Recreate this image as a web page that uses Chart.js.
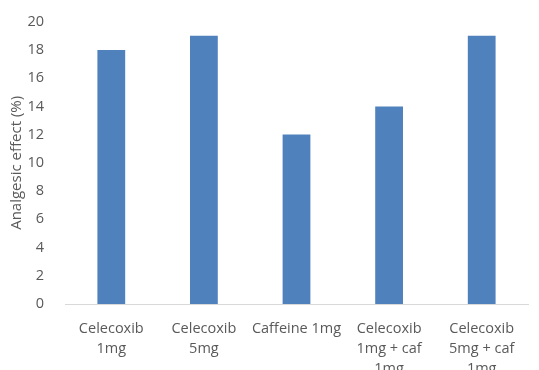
<!DOCTYPE html>
<html>
<head>
<meta charset="utf-8">
<script src="https://cdn.jsdelivr.net/npm/chart.js@4.4.1/dist/chart.umd.min.js"></script>
<style>
  html, body { margin: 0; padding: 0; background: #ffffff; overflow: hidden; }
  #wrap { position: relative; width: 539px; height: 375px; }
</style>
</head>
<body>
<div id="wrap"><canvas id="chart"></canvas></div>
<script>
// Treatment groups (multi-line category labels)
const categories = [
  ["Celecoxib", "1mg"],
  ["Celecoxib", "5mg"],
  ["Caffeine 1mg"],
  ["Celecoxib", "1mg + caf", "1mg"],
  ["Celecoxib", "5mg + caf", "1mg"]
];
// Analgesic effect in percent
const analgesicEffect = [18, 19, 12, 14, 19];
const yTicks = { min: 0, max: 20, step: 2 };
const axisTitle = "Analgesic effect (%)";

const textColor = "#595959";
const fontFamily = "'Open Sans', sans-serif";

new Chart(document.getElementById("chart"), {
  type: "bar",
  data: {
    labels: categories,
    datasets: [{
      data: analgesicEffect,
      backgroundColor: "#4F81BD",
      borderWidth: 0,
      barPercentage: 0.6,
      categoryPercentage: 0.5
    }]
  },
  options: {
    responsive: true,
    maintainAspectRatio: false,
    animation: false,
    layout: { padding: { top: 20, right: 11, left: 0, bottom: 0 } },
    plugins: { legend: { display: false }, tooltip: { enabled: false } },
    scales: {
      x: {
        grid: { display: false },
        border: { display: true, color: "#d9d9d9", width: 1 },
        ticks: {
          color: textColor,
          font: { family: fontFamily, size: 14.5, lineHeight: 1.37 },
          maxRotation: 0,
          autoSkip: false,
          padding: 7
        },
        afterFit(scale) { scale.height = 71; }
      },
      y: {
        min: yTicks.min,
        max: yTicks.max,
        grid: { display: false },
        border: { display: false },
        ticks: {
          stepSize: yTicks.step,
          color: textColor,
          font: { family: fontFamily, size: 14.5 },
          padding: 13
        },
        title: {
          display: true,
          text: axisTitle,
          color: textColor,
          font: { family: fontFamily, size: 15 },
          padding: { top: 8, bottom: 0 }
        },
        afterFit(scale) { scale.width = 65; }
      }
    }
  }
});
</script>
</body>
</html>
